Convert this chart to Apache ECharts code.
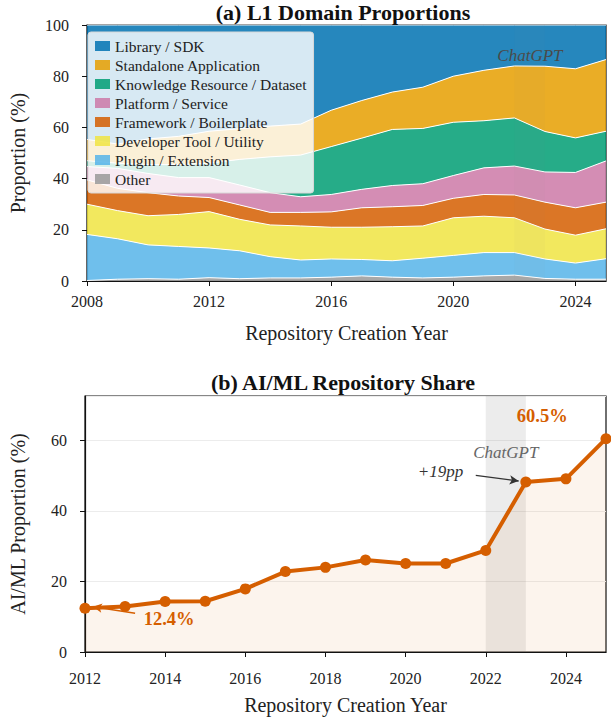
<!DOCTYPE html>
<html>
<head>
<meta charset="utf-8">
<script src="https://cdn.jsdelivr.net/npm/echarts@6/dist/echarts.min.js"></script>
<style>
  html, body { margin: 0; padding: 0; background: #fff; }
  #chart { width: 611px; height: 717px; }
</style>
</head>
<body>
<div id="chart"></div>
<script>
// years for panel (a)
const yearsA = ["2008", "2009", "2010", "2011", "2012", "2013", "2014", "2015", "2016", "2017", "2018", "2019", "2020", "2021", "2022", "2023", "2024", "2025"];

// per-domain proportions (%), bottom of the stack first
const other       = [0.2, 0.7, 0.9, 0.7, 1.3, 0.9, 1.2, 1.2, 1.5, 2.0, 1.5, 1.2, 1.5, 2.0, 2.3, 1.0, 0.7, 0.7];
const plugin      = [18.0, 15.8, 13.2, 12.8, 11.6, 10.9, 8.3, 7.0, 7.1, 6.4, 6.4, 7.7, 8.5, 9.1, 8.8, 7.6, 6.3, 8.0];
const devTool     = [11.8, 11.0, 11.4, 12.5, 14.2, 12.3, 12.4, 13.3, 12.4, 12.6, 13.3, 12.6, 14.7, 14.2, 13.6, 11.7, 10.9, 11.7];
const framework   = [9.5, 8.7, 9.0, 7.2, 5.5, 5.6, 4.9, 5.3, 6.0, 7.6, 7.8, 8.0, 7.6, 8.5, 8.9, 10.5, 10.7, 10.4];
const platform    = [5.2, 7.8, 7.5, 7.2, 7.8, 7.8, 7.7, 6.1, 6.8, 7.2, 8.3, 8.5, 8.9, 10.4, 11.3, 11.8, 13.8, 16.1];
const knowledge   = [2.3, 2.0, 3.5, 5.1, 5.6, 10.0, 14.0, 16.3, 18.7, 20.0, 21.9, 21.6, 20.8, 18.4, 18.8, 15.8, 13.5, 11.6];
const standalone  = [8.3, 7.5, 10.0, 11.0, 12.5, 12.0, 12.0, 12.1, 14.2, 14.7, 14.6, 16.1, 18.0, 19.7, 20.3, 25.5, 27.0, 28.0];
const library     = [44.7, 46.5, 44.5, 43.5, 41.5, 40.5, 39.5, 38.7, 33.3, 29.5, 26.2, 24.3, 20.0, 17.7, 16.0, 16.1, 17.1, 13.5];

// panel (b): AI/ML share
const yearsB = [2012, 2013, 2014, 2015, 2016, 2017, 2018, 2019, 2020, 2021, 2022, 2023, 2024, 2025];
const aiShare = [12.4, 12.9, 14.3, 14.4, 17.9, 22.8, 24.0, 26.1, 25.1, 25.1, 28.8, 48.2, 49.1, 60.5];

const font = "'Liberation Serif', 'DejaVu Serif', serif";

let domains = [
  { name: "Other", data: other, color: "rgba(153,153,153,0.85)" },
  { name: "Plugin / Extension", data: plugin, color: "rgba(86,180,233,0.85)" },
  { name: "Developer Tool / Utility", data: devTool, color: "rgba(240,228,66,0.85)" },
  { name: "Framework / Boilerplate", data: framework, color: "rgba(213,94,0,0.85)" },
  { name: "Platform / Service", data: platform, color: "rgba(204,121,167,0.85)" },
  { name: "Knowledge Resource / Dataset", data: knowledge, color: "rgba(0,158,115,0.85)" },
  { name: "Standalone Application", data: standalone, color: "rgba(230,159,0,0.85)" },
  { name: "Library / SDK", data: library, color: "rgba(0,114,178,0.85)" },
];

function pairs(xs, ys) {
  return xs.map((x, i) => [x, ys[i]]);
}

let stackSeries = domains.map((d) => {
  return {
    name: d.name,
    type: "line",
    stack: "share",
    xAxisIndex: 0,
    yAxisIndex: 0,
    symbol: "none",
    color: d.color,
    itemStyle: { color: d.color },
    lineStyle: { color: "#fff", width: 1 },
    areaStyle: { color: d.color, opacity: 1 },
    data: d.data,
  };
});

// ChatGPT band over panel (a), kept in its own series so it sits above the areas
let bandA = {
  name: "band",
  type: "line",
  xAxisIndex: 0,
  yAxisIndex: 0,
  data: [],
  z: 10,
  markArea: {
    silent: true,
    z: 10,
    itemStyle: { color: "rgba(128,128,128,0.035)" },
    data: [[{ xAxis: "2022" }, { xAxis: "2023" }]],
  },
  markPoint: {
    silent: true,
    symbol: "circle",
    symbolSize: 1,
    itemStyle: { color: "transparent" },
    data: [
      {
        coord: ["2022", 88.2],
        label: {
          show: true,
          position: "inside",
          offset: [15.5, 0],
          formatter: "ChatGPT",
          color: "#4a4a4a",
          textBorderWidth: 0,
          fontFamily: font,
          fontStyle: "italic",
          fontSize: 17,
        },
      },
    ],
  },
};

let axisText = { color: "#222", fontFamily: font, fontSize: 16 };
let axisNameText = { color: "#222", fontFamily: font, fontSize: 20 };
let yearLabel = (v) => String(v);

let option = {
  backgroundColor: "#fff",
  animation: false,
  textStyle: { fontFamily: font },
  title: [
    {
      text: "(a) L1 Domain Proportions",
      left: 343,
      top: 1,
      padding: 0,
      textAlign: "center",
      textStyle: { fontFamily: font, fontSize: 22, fontWeight: "bold", color: "#111" },
    },
    {
      text: "(b) AI/ML Repository Share",
      left: 343,
      top: 371,
      padding: 0,
      textAlign: "center",
      textStyle: { fontFamily: font, fontSize: 22, fontWeight: "bold", color: "#111" },
    },
  ],
  legend: {
    data: domains.map((d) => d.name).reverse(),
    orient: "vertical",
    left: 88,
    top: 32,
    padding: [6, 7, 6, 7],
    itemGap: 3,
    itemWidth: 15,
    itemHeight: 10,
    icon: "rect",
    backgroundColor: "rgba(255,255,255,0.82)",
    borderColor: "#d8d8d8",
    borderWidth: 1,
    borderRadius: 3,
    textStyle: { fontFamily: font, fontSize: 15.5, color: "#222" },
    selectedMode: false,
    z: 20,
  },
  grid: [
    { left: 82, right: 5, top: 25, height: 256, show: true, borderColor: "#111", borderWidth: 1.2, backgroundColor: "transparent" },
    { left: 81, right: 5, top: 396, height: 256, show: true, borderColor: "#111", borderWidth: 1.2, backgroundColor: "transparent" },
  ],
  xAxis: [
    {
      type: "category",
      gridIndex: 0,
      data: yearsA,
      boundaryGap: false,
      name: "Repository Creation Year",
      nameLocation: "middle",
      nameGap: 42,
      nameTextStyle: axisNameText,
      axisLine: { lineStyle: { color: "#111", width: 1.2 } },
      axisTick: { inside: false, length: 5, interval: 3, lineStyle: { color: "#111" } },
      axisLabel: Object.assign({ margin: 12, interval: 3 }, axisText),
      splitLine: { show: false },
    },
    {
      type: "value",
      gridIndex: 1,
      min: 2012,
      max: 2025,
      interval: 2,
      name: "Repository Creation Year",
      nameLocation: "middle",
      nameGap: 43,
      nameTextStyle: axisNameText,
      axisLine: { lineStyle: { color: "#111", width: 1.2 } },
      axisTick: { inside: false, length: 5, lineStyle: { color: "#111" } },
      axisLabel: Object.assign({ margin: 18, showMaxLabel: false, formatter: yearLabel }, axisText),
      splitLine: { show: false },
    },
  ],
  yAxis: [
    {
      type: "value",
      gridIndex: 0,
      min: 0,
      max: 100,
      interval: 20,
      name: "Proportion (%)",
      nameLocation: "middle",
      nameGap: 59,
      nameTextStyle: axisNameText,
      axisLine: { show: true, lineStyle: { color: "#111", width: 1.2 } },
      axisTick: { show: true, inside: false, length: 5, lineStyle: { color: "#111" } },
      axisLabel: Object.assign({ margin: 18 }, axisText),
      splitLine: { show: false },
    },
    {
      type: "value",
      gridIndex: 1,
      min: 0,
      max: 72.6,
      interval: 20,
      name: "AI/ML Proportion (%)",
      nameLocation: "middle",
      nameGap: 57,
      nameTextStyle: axisNameText,
      axisLine: { show: true, lineStyle: { color: "#111", width: 1.2 } },
      axisTick: { show: true, inside: false, length: 5, lineStyle: { color: "#111" } },
      axisLabel: Object.assign({ margin: 18, showMaxLabel: false }, axisText),
      splitLine: { show: true, lineStyle: { color: "#ececec", width: 1 } },
    },
  ],
  series: stackSeries.concat([
    bandA,
    {
      name: "AI/ML share",
      type: "line",
      xAxisIndex: 1,
      yAxisIndex: 1,
      symbol: "circle",
      symbolSize: 11,
      color: "#d55e00",
      lineStyle: { color: "#d55e00", width: 4 },
      itemStyle: { color: "#d55e00" },
      areaStyle: { color: "rgba(213,94,0,0.1)" },
      data: pairs(yearsB, aiShare),
      z: 3,
      markArea: {
        silent: true,
        itemStyle: { color: "rgba(128,128,128,0.15)" },
        data: [[{ xAxis: 2022 }, { xAxis: 2023 }]],
      },
      markLine: {
        silent: true,
        symbol: ["none", "arrow"],
        symbolSize: [7, 9],
        label: { show: false },
        data: [
          [
            { coord: [2021.75, 50.1], lineStyle: { color: "#333", width: 1.3, type: "solid" } },
            { coord: [2022.82, 48.5] },
          ],
          [
            { coord: [2013.25, 11.0], lineStyle: { color: "#d55e00", width: 1.5, type: "solid" } },
            { coord: [2012.2, 12.8] },
          ],
        ],
      },
      markPoint: {
        silent: true,
        symbol: "circle",
        symbolSize: 1,
        itemStyle: { color: "transparent" },
        data: [
          {
            coord: [2022.5, 56.6],
            label: { show: true, position: "inside", formatter: "ChatGPT", color: "#666", fontFamily: font, fontStyle: "italic", fontSize: 17 },
          },
          {
            coord: [2020.87, 51.3],
            label: { show: true, position: "inside", formatter: "+19pp", color: "#333", fontFamily: font, fontStyle: "italic", fontSize: 17 },
          },
          {
            coord: [2023.41, 66.8],
            label: { show: true, position: "inside", formatter: "60.5%", color: "#d55e00", fontFamily: font, fontWeight: "bold", fontSize: 18.5 },
          },
          {
            coord: [2014.1, 9.3],
            label: { show: true, position: "inside", formatter: "12.4%", color: "#d55e00", fontFamily: font, fontWeight: "bold", fontSize: 18.5 },
          },
        ],
      },
    },
  ]),
};

let myChart = echarts.init(document.getElementById("chart"), null, { renderer: "svg" });
myChart.setOption(option);
</script>
</body>
</html>
